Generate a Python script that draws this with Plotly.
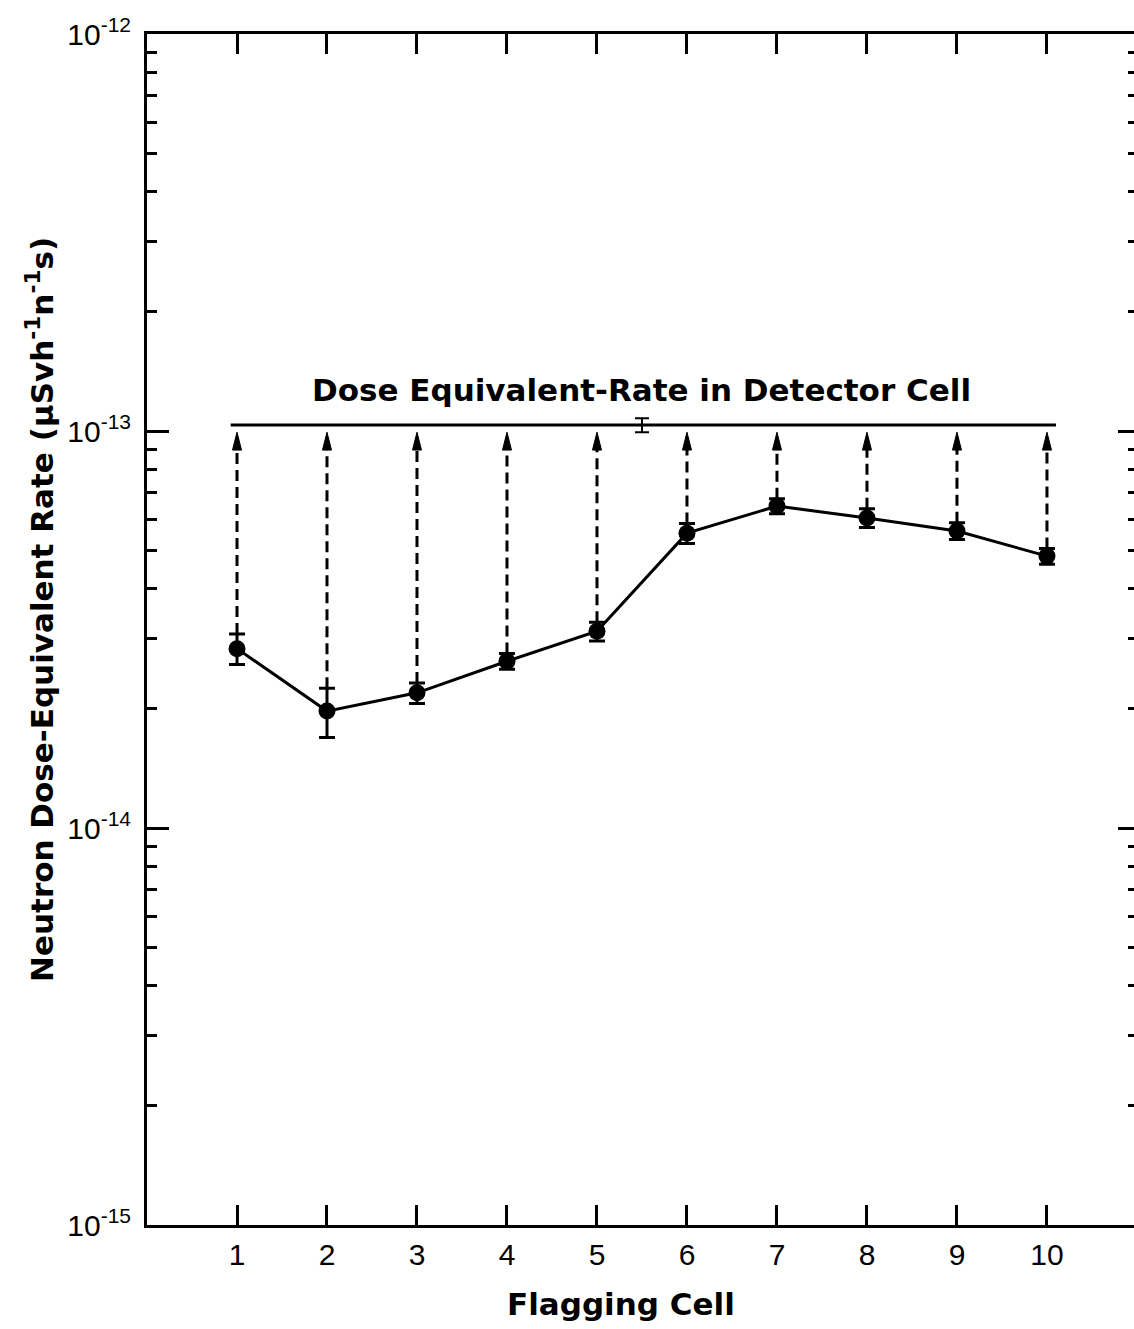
import numpy as np
import plotly.graph_objects as go

# Neutron dose-equivalent rate per flagging cell (µSv h^-1 n^-1 s)
cells = [1, 2, 3, 4, 5, 6, 7, 8, 9, 10]
flag_rate = [2.83e-14, 1.97e-14, 2.19e-14, 2.63e-14, 3.13e-14,
             5.53e-14, 6.47e-14, 6.04e-14, 5.60e-14, 4.84e-14]
flag_err = [0.25e-14, 0.28e-14, 0.13e-14, 0.12e-14, 0.17e-14,
            0.32e-14, 0.28e-14, 0.33e-14, 0.27e-14, 0.22e-14]

# Dose equivalent-rate in the detector cell
detector_rate = 1.035e-13
detector_err = 0.042e-13
detector_span = [0.93, 10.1]
detector_err_x = 5.5

x_tick_vals = cells
x_tick_text = [str(c) for c in cells]
y_decades = [-15, -14, -13, -12]
y_tick_text = ["10<sup>-15</sup>", "10<sup>-14</sup>", "10<sup>-13</sup>", "10<sup>-12</sup>"]

# styling
BLACK = "black"
TICK_FONT = dict(family="Liberation Sans, Arial, sans-serif", size=30, color=BLACK)
BOLD_FONT = dict(family="DejaVu Sans, sans-serif", size=31, color=BLACK, weight="bold")
ARROW_GAP_DEC = 0.018   # gap between arrow tip and detector line (decades)
HEAD_LEN_DEC = 0.045    # arrow head length (decades)
HEAD_HALF_W = 0.05      # arrow head half width (x units)

tip = detector_rate * 10 ** (-ARROW_GAP_DEC)
base = tip * 10 ** (-HEAD_LEN_DEC)

shaft_x, shaft_y, head_x, head_y = [], [], [], []
for c, r, e in zip(cells, flag_rate, flag_err):
    shaft_x += [c, c, None]
    shaft_y += [r + e, base * 10 ** (HEAD_LEN_DEC * 0.5), None]
    head_x += [c - HEAD_HALF_W, c, c + HEAD_HALF_W, c - HEAD_HALF_W, None]
    head_y += [base, tip, base, base, None]

fig = go.Figure()

# dashed arrow shafts
fig.add_trace(go.Scatter(
    x=shaft_x, y=shaft_y, mode="lines",
    line=dict(color=BLACK, width=3, dash="11px,6px"),
    hoverinfo="skip", showlegend=False))

# arrow heads
fig.add_trace(go.Scatter(
    x=head_x, y=head_y, mode="lines", fill="toself",
    fillcolor=BLACK, line=dict(color=BLACK, width=1),
    hoverinfo="skip", showlegend=False))

# detector-cell level
fig.add_trace(go.Scatter(
    x=detector_span, y=[detector_rate, detector_rate], mode="lines",
    line=dict(color=BLACK, width=3), showlegend=False))
fig.add_trace(go.Scatter(
    x=[detector_err_x], y=[detector_rate], mode="markers",
    marker=dict(size=1, color=BLACK),
    error_y=dict(type="data", array=[detector_err], color=BLACK,
                 thickness=2, width=7),
    showlegend=False))

# flagging-cell results
fig.add_trace(go.Scatter(
    x=cells, y=flag_rate, mode="lines+markers",
    line=dict(color=BLACK, width=3),
    marker=dict(symbol="circle", size=17, color=BLACK),
    error_y=dict(type="data", array=flag_err, color=BLACK,
                 thickness=3, width=8),
    showlegend=False))

# invisible companion trace so the right-hand tick axis is drawn
fig.add_trace(go.Scatter(
    x=[detector_err_x], y=[detector_rate], yaxis="y2", mode="markers",
    marker=dict(size=1, opacity=0), hoverinfo="skip", showlegend=False))

minor_vals = [k * 10.0 ** d for d in y_decades[:-1] for k in range(2, 10)]

fig.update_layout(
    width=1134, height=1329,
    margin=dict(l=147, r=0, t=34, b=104),
    paper_bgcolor="white", plot_bgcolor="white",
    showlegend=False,
    xaxis=dict(
        range=[0, 10.967], tickmode="array",
        tickvals=x_tick_vals, ticktext=x_tick_text,
        ticks="inside", ticklen=20, tickwidth=3, tickcolor=BLACK,
        showline=True, linewidth=3, linecolor=BLACK, mirror="ticks",
        showgrid=False, zeroline=False, tickfont=TICK_FONT,
        ticklabelstandoff=1),
    yaxis=dict(
        type="log", range=[-15, -12], tickmode="array",
        tickvals=[10.0 ** d for d in y_decades], ticktext=y_tick_text,
        ticks="inside", ticklen=22, tickwidth=3, tickcolor=BLACK,
        minor=dict(tickmode="array", tickvals=minor_vals, ticks="inside",
                   ticklen=10, tickwidth=3, tickcolor=BLACK, showgrid=False),
        showline=True, linewidth=3, linecolor=BLACK,
        showgrid=False, zeroline=False, tickfont=TICK_FONT,
        ticklabelstandoff=7),
    yaxis2=dict(
        type="log", range=[-15, -12], overlaying="y", side="right",
        anchor="x", tickmode="array",
        tickvals=[10.0 ** d for d in y_decades], showticklabels=False,
        ticks="inside", ticklen=16, tickwidth=3, tickcolor=BLACK,
        minor=dict(tickmode="array", tickvals=minor_vals, ticks="inside",
                   ticklen=6, tickwidth=3, tickcolor=BLACK, showgrid=False),
        showline=False, showgrid=False, zeroline=False),
    annotations=[
        dict(text="Dose Equivalent-Rate in Detector Cell",
             x=5.5, xref="x", y=0.701, yref="paper",
             xanchor="center", yanchor="middle", showarrow=False,
             font=BOLD_FONT),
        dict(text="Flagging Cell",
             x=0.480, xref="paper", y=-0.066, yref="paper",
             xanchor="center", yanchor="middle", showarrow=False,
             font=BOLD_FONT),
        dict(text="Neutron Dose-Equivalent Rate (µSvh<sup>-1</sup>n<sup>-1</sup>s)",
             x=-0.1084, xref="paper", y=0.5164, yref="paper",
             xanchor="center", yanchor="middle", showarrow=False,
             textangle=-90, font=BOLD_FONT),
    ],
)

fig.write_html("out.html")
